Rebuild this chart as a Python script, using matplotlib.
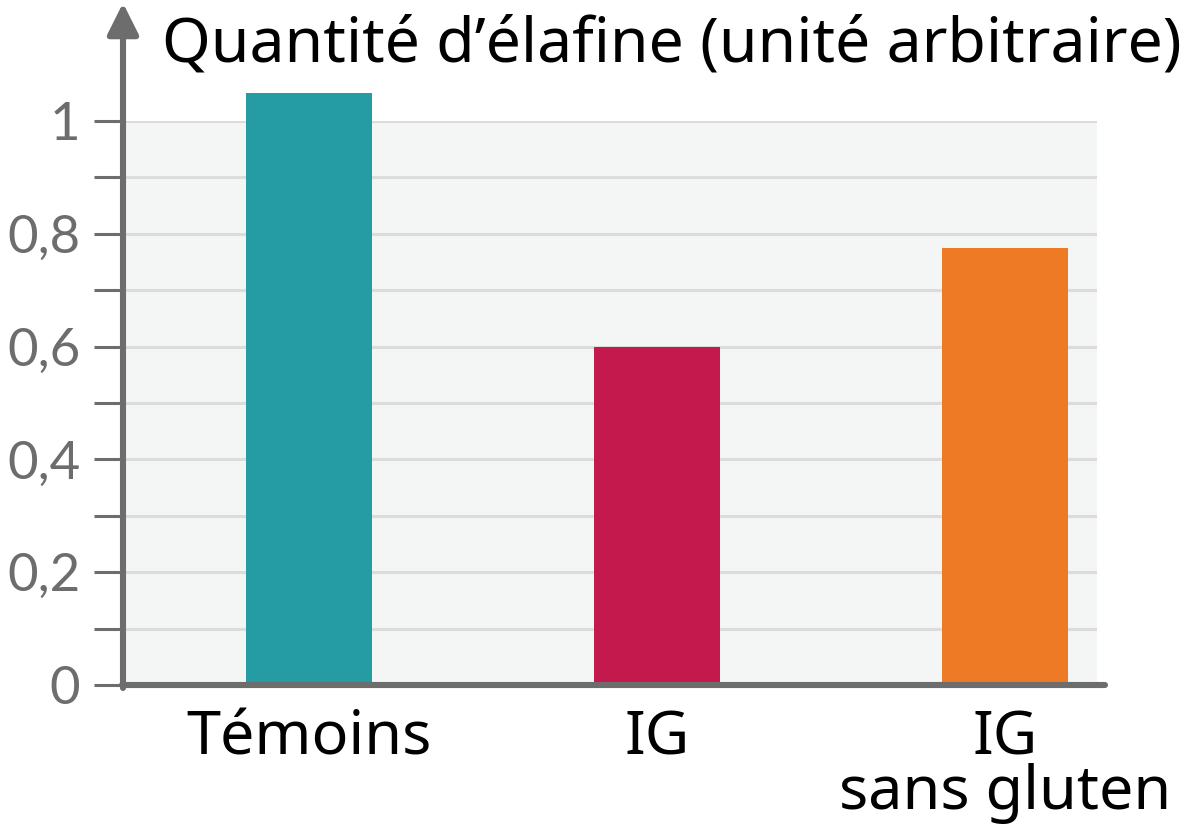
import matplotlib.pyplot as plt
from matplotlib.ticker import MultipleLocator

# données
groupes = ["Témoins", "IG", "IG\nsans gluten"]
elafine = [1.05, 0.60, 0.775]
couleurs = ["#259ca3", "#c4194d", "#ee7a26"]
ticks_y = [0, 0.2, 0.4, 0.6, 0.8, 1]
labels_y = ["0", "0,2", "0,4", "0,6", "0,8", "1"]
titre = "Quantité d’élafine (unité arbitraire)"

W, H = 1200, 834
fig = plt.figure(figsize=(W / 100, H / 100), dpi=100)
ax = fig.add_axes([122 / W, (H - 685) / H, (1097 - 122) / W, (685 - 121) / H])
ax.set_facecolor("#f4f6f6")

x = range(len(groupes))
ax.bar(x, elafine, width=0.362, color=couleurs, zorder=3, clip_on=False)
ax.set_xlim(-0.537, 2.264)
ax.set_ylim(0, 1)

# grille
ax.yaxis.set_minor_locator(MultipleLocator(0.1))
ax.grid(axis="y", which="both", color="#dcdcdc", linewidth=2.2, zorder=1)
ax.set_axisbelow(True)

for s in ax.spines.values():
    s.set_visible(False)

ax.set_yticks(ticks_y)
ax.set_yticklabels(labels_y, fontsize=38, color="#6d6d6d", family="Lato")
ax.tick_params(axis="y", which="both", length=20, width=2.2, color="#6d6d6d", pad=10)
ax.set_xticks(list(x))
ax.set_xticklabels(groupes, fontsize=44, family="Noto Sans", linespacing=0.85)
ax.tick_params(axis="x", length=0, pad=17)

# axes avec flèche
gris = "#6d6d6d"
ax.plot([0, 1.008], [0, 0], transform=ax.transAxes, color=gris, lw=4.4,
        solid_capstyle="round", clip_on=False, zorder=5)
ax.annotate("", xy=(123 / W, (H - 3) / H), xytext=(123 / W, (H - 688) / H),
            xycoords="figure fraction", textcoords="figure fraction",
            arrowprops=dict(arrowstyle="-|>,head_length=1.9,head_width=0.95",
                            color=gris, lw=4.4, shrinkA=0, shrinkB=0))

fig.text(162 / W, (H - 62) / H, titre, fontsize=45, family="Noto Sans",
         va="baseline", ha="left")

fig.savefig("out.png", dpi=100)
